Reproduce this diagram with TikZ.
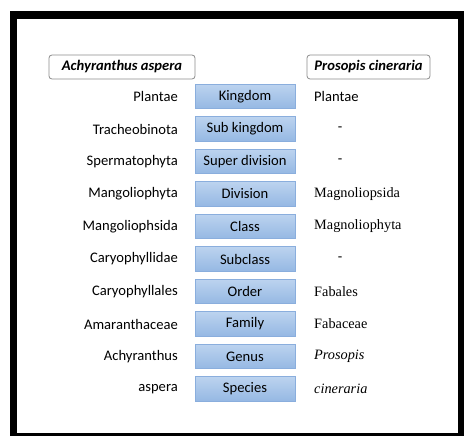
\documentclass[tikz,border=0pt]{standalone}
\usepackage{fontspec}
\setmainfont{Carlito}
\newfontfamily\serifx{Liberation Serif}
\definecolor{ranktop}{HTML}{BCD3EF}
\definecolor{rankbot}{HTML}{95B8E3}
\definecolor{rankedge}{HTML}{8AAEDD}
\definecolor{hdredge}{HTML}{8C8C8C}
\tikzset{
  rankbox/.style={draw=rankedge, line width=0.6pt, top color=ranktop, bottom color=rankbot,
    minimum width=100pt, minimum height=24.5pt, inner sep=0pt, font=\fontsize{14.6}{16}\selectfont},
  hdr/.style={draw=hdredge, line width=0.8pt, rounded corners=3pt, fill=white, inner sep=0pt,
    minimum height=24pt, font=\fontsize{14.6}{16}\selectfont\bfseries\itshape},
  lefttxt/.style={anchor=east, inner sep=0pt, font=\fontsize{14.6}{16}\selectfont},
  righttxt/.style={anchor=west, inner sep=0pt, font=\fontsize{14.6}{16}\selectfont},
  rightser/.style={anchor=west, inner sep=0pt, font=\fontsize{14.3}{16}\selectfont\serifx},
  dashtxt/.style={anchor=center, inner sep=0pt, font=\fontsize{14.6}{16}\selectfont},
}
\begin{document}
\begin{tikzpicture}[x=1pt,y=-1pt]
\useasboundingbox (0,0) rectangle (464,436);
\fill[white] (0,0) rectangle (464,436);
\fill[black] (10,11) rectangle (464,436);
\fill[white] (17,19) rectangle (458,433);
% headers
\node[hdr, minimum width=146pt] (hleft) at (122,67) {Achyranthus aspera};
\node[hdr, minimum width=123pt] (hright) at (368.5,67) {Prosopis cineraria};
% rank boxes
\node[rankbox] (r1) at (245,96.5) {Kingdom};
\node[rankbox] (r2) at (245,129) {Sub kingdom};
\node[rankbox] (r3) at (245,161.5) {Super division};
\node[rankbox] (r4) at (245,194) {Division};
\node[rankbox] (r5) at (245,226.5) {Class};
\node[rankbox] (r6) at (245,259) {Subclass};
\node[rankbox] (r7) at (245,291.5) {Order};
\node[rankbox] (r8) at (245,324) {Family};
\node[rankbox] (r9) at (245,356.5) {Genus};
\node[rankbox] (r10) at (245,389) {Species};
% left column
\node[lefttxt] (a1) at (178,96.5) {Plantae};
\node[lefttxt] (a2) at (178,129) {Tracheobinota};
\node[lefttxt] (a3) at (178,161.5) {Spermatophyta};
\node[lefttxt] (a4) at (178,194) {Mangoliophyta};
\node[lefttxt] (a5) at (178,226.5) {Mangoliophsida};
\node[lefttxt] (a6) at (178,259) {Caryophyllidae};
\node[lefttxt] (a7) at (178,291.5) {Caryophyllales};
\node[lefttxt] (a8) at (178,324) {Amaranthaceae};
\node[lefttxt] (a9) at (178,356.5) {Achyranthus};
\node[lefttxt] (a10) at (178,389) {aspera};
% right column
\node[righttxt] (b1) at (314,96.5) {Plantae};
\node[dashtxt] (b2) at (340,129) {-};
\node[dashtxt] (b3) at (340,161.5) {-};
\node[rightser] (b4) at (314,194) {Magnoliopsida};
\node[rightser] (b5) at (314,226.5) {Magnoliophyta};
\node[dashtxt] (b6) at (340,259) {-};
\node[rightser] (b7) at (314,291.5) {Fabales};
\node[rightser] (b8) at (314,324) {Fabaceae};
\node[rightser] (b9) at (314,356.5) {\itshape Prosopis};
\node[rightser] (b10) at (314,389) {\itshape cineraria};
\end{tikzpicture}
\end{document}
